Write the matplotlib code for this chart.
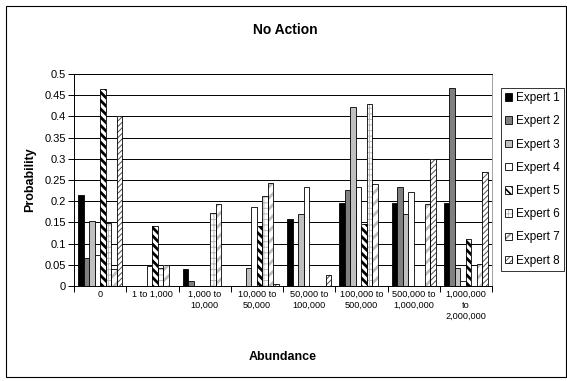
import matplotlib
matplotlib.use('Agg')
import numpy as np
import matplotlib.pyplot as plt
from matplotlib.patches import Rectangle, Patch
from matplotlib.colors import to_rgba

plt.rcParams['font.family'] = ['Liberation Sans', 'DejaVu Sans']

categories = ['0', '1 to 1,000', '1,000 to\n10,000', '10,000 to\n50,000',
              '50,000 to\n100,000', '100,000 to\n500,000', '500,000 to\n1,000,000',
              '1,000,000\nto\n2,000,000']

expert1 = [0.214, 0.0, 0.040, 0.0, 0.159, 0.196, 0.196, 0.196]
expert2 = [0.067, 0.0, 0.012, 0.0, 0.0, 0.226, 0.233, 0.466]
expert3 = [0.154, 0.0, 0.0, 0.043, 0.170, 0.423, 0.169, 0.042]
expert4 = [0.072, 0.046, 0.0, 0.186, 0.233, 0.233, 0.222, 0.012]
expert5 = [0.465, 0.141, 0.0, 0.141, 0.0, 0.146, 0.0, 0.112]
expert6 = [0.148, 0.043, 0.173, 0.213, 0.0, 0.429, 0.0, 0.0]
expert7 = [0.039, 0.049, 0.193, 0.242, 0.0, 0.241, 0.193, 0.051]
expert8 = [0.400, 0.0, 0.0, 0.005, 0.025, 0.0, 0.300, 0.268]

series = [expert1, expert2, expert3, expert4, expert5, expert6, expert7, expert8]
names = ['Expert %d' % (i + 1) for i in range(8)]

# fill, hatch, hatch colour, hatch linewidth
styles = [
    ('black', None, None, 0),
    ('#808080', None, None, 0),
    ('#c0c0c0', None, None, 0),
    ('white', None, None, 0),
    ('white', '\\\\\\\\', '#000000', 2.0),
    ('white', '+++', '#b8b8b8', 0.7),
    ('white', '///', '#bdbdbd', 2.0),
    ('white', '//////', '#505050', 0.7),
]


def style_hatch(patch, hc, hlw):
    patch._hatch_color = to_rgba(hc)
    try:
        patch.set_hatch_linewidth(hlw)
    except AttributeError:
        patch._hatch_linewidth = hlw


W, H = 567, 381
fig = plt.figure(figsize=(W / 100, H / 100), dpi=100)
ax = fig.add_axes([74 / W, 1 - 286 / H, (492 - 74) / W, (286 - 74) / H])

x = np.arange(len(categories))
bw = 1 / 9.5
for i, vals in enumerate(series):
    fc, hatch, hc, hlw = styles[i]
    pos = x - 0.5 + (0.75 + i + 0.5) * bw
    if hatch:
        bars = ax.bar(pos, vals, bw, color=fc, edgecolor=hc, linewidth=0,
                      hatch=hatch, zorder=3)
        for b in bars:
            style_hatch(b, hc, hlw)
        ax.bar(pos, vals, bw, fill=False, edgecolor='black', linewidth=0.6, zorder=4)
    else:
        ax.bar(pos, vals, bw, color=fc, edgecolor='black', linewidth=0.6, zorder=3)

ax.set_xlim(-0.5, len(categories) - 0.5)
ax.set_ylim(0, 0.5)
yt = np.arange(0, 0.501, 0.05)
ax.set_yticks(yt)
ax.set_yticklabels(['0' if v == 0 else ('%g' % round(v, 2)) for v in yt], fontsize=8)
ax.yaxis.grid(True, color='black', linewidth=0.7, zorder=0)
ax.set_axisbelow(True)

ax.set_xticks(x)
ax.set_xticklabels(categories, fontsize=6.6, linespacing=1.25)
ax.set_xticks(np.arange(-0.5, len(categories)), minor=True)
ax.tick_params(axis='x', which='major', length=0, pad=3)
ax.tick_params(axis='x', which='minor', length=4, width=0.7, direction='out')
ax.tick_params(axis='y', length=4, width=0.7, direction='out', pad=2)

for s in ['left', 'bottom', 'top']:
    ax.spines[s].set_color('black')
    ax.spines[s].set_linewidth(0.7)
ax.spines['right'].set_color('#a0a0a0')
ax.spines['right'].set_linewidth(0.7)

fig.text(285 / W, 1 - 30 / H, 'No Action', ha='center', va='center',
         fontsize=10, fontweight='bold')
fig.text(283 / W, 1 - 357 / H, 'Abundance', ha='center', va='center',
         fontsize=9, fontweight='bold')
fig.text(30 / W, 1 - 180 / H, 'Probability', ha='center', va='center',
         fontsize=9, fontweight='bold', rotation=90)

handles = []
for i in range(8):
    fc, hatch, hc, hlw = styles[i]
    p = Patch(facecolor=fc, edgecolor='black', linewidth=0.6, hatch=hatch)
    handles.append(p)
leg = fig.legend(handles, names, loc='upper left',
                 bbox_to_anchor=(501 / W, 1 - 88 / H), fontsize=8.5,
                 frameon=True, fancybox=False, edgecolor='black',
                 handlelength=0.6, handleheight=0.6, handletextpad=0.35,
                 labelspacing=0.95, borderpad=0.35, borderaxespad=0)
leg.get_frame().set_linewidth(0.7)
for p, st in zip(leg.get_patches(), styles):
    if st[1]:
        style_hatch(p, st[2] if st[2] != '#bdbdbd' else '#909090', max(st[3] * 0.6, 0.6))

fig.patches.append(Rectangle((5.5 / W, 4.5 / H), (560 / W), (371 / H),
                             transform=fig.transFigure, fill=False,
                             edgecolor='black', linewidth=0.8))

fig.savefig('out.png', dpi=100)
